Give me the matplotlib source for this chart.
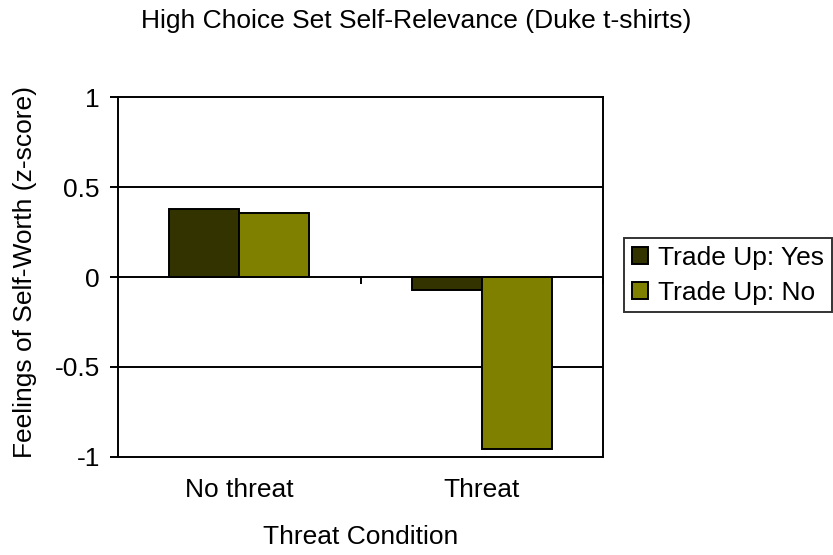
import matplotlib.pyplot as plt
import numpy as np

categories = ['No threat', 'Threat']
trade_up_yes = [0.38, -0.07]
trade_up_no = [0.355, -0.955]
series_labels = ['Trade Up: Yes', 'Trade Up: No']
yticks = [1, 0.5, 0, -0.5, -1]
ytick_labels = ['1', '0.5', '0', '-0.5', '-1']

plt.rcParams['font.family'] = ['Liberation Sans', 'DejaVu Sans']
fs = 19

fig = plt.figure(figsize=(8.33, 5.55), dpi=100)
ax = fig.add_axes([0.1417, 0.1766, 0.5822, 0.6486])

x = np.arange(len(categories))
w = 0.289
ax.bar(x - w/2, trade_up_yes, w, color='#333300', edgecolor='black', linewidth=1.4, label=series_labels[0], zorder=3)
ax.bar(x + w/2, trade_up_no, w, color='#808000', edgecolor='black', linewidth=1.4, label=series_labels[1], zorder=3)

ax.set_xlim(-0.5, 1.5)
ax.set_ylim(-1, 1)
ax.set_yticks(yticks)
ax.set_yticklabels(ytick_labels, fontsize=fs)
for yv in [0.5, -0.5]:
  ax.axhline(yv, color='black', linewidth=1.4, zorder=1)
ax.axhline(0, color='black', linewidth=1.4, zorder=4)
# category tick on the zero axis
ax.vlines([0.5, 1.5], 0, -0.04, color='black', linewidth=1.4, zorder=4, clip_on=False)

ax.set_xticks(x)
ax.set_xticklabels(categories, fontsize=fs)
ax.tick_params(axis='x', length=0, pad=15)
ax.tick_params(axis='y', length=6, width=1.4, direction='out', pad=7)
for s in ax.spines.values():
  s.set_linewidth(1.4)

ax.set_xlabel('Threat Condition', fontsize=fs, va='center')
ax.xaxis.set_label_coords(0.5, -0.222)
ax.set_ylabel('Feelings of Self-Worth (z-score)', fontsize=fs, va='center')
ax.yaxis.set_label_coords(-0.192, 0.515)
fig.text(0.5, 0.963, 'High Choice Set Self-Relevance (Duke t-shirts)', ha='center', va='center', fontsize=fs)

leg = fig.legend(loc='upper left', bbox_to_anchor=(0.749, 0.571), fontsize=fs, frameon=True, fancybox=False,
                 handlelength=0.6, handleheight=0.6, handletextpad=0.4, borderpad=0.3, labelspacing=0.4, borderaxespad=0)
leg.get_frame().set_edgecolor('black')
leg.get_frame().set_linewidth(1.4)
for h in leg.legend_handles:
  h.set_linewidth(1.4)

plt.savefig('out.png', dpi=100)
